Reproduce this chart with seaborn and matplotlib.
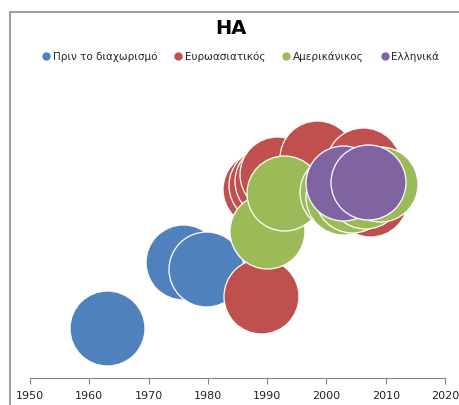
import matplotlib
matplotlib.use("Agg")
import matplotlib.pyplot as plt
import seaborn as sns
import pandas as pd
from matplotlib.lines import Line2D
from matplotlib.patches import Rectangle

# Series: year of appearance and relative position
groups = ["Πριν το διαχωρισμό", "Ευρωασιατικός", "Αμερικάνικος", "Ελληνικά"]
colors = ["#4F81BD", "#C0504D", "#9BBB59", "#8064A2"]

before_x = [1963.0, 1975.8, 1979.7]
before_y = [1.68, 3.87, 3.65]

eurasian_x = [1989.0, 1988.8, 1989.8, 1990.8, 1991.7, 1998.4, 2006.2, 2007.3]
eurasian_y = [2.73, 6.30, 6.43, 6.57, 6.80, 7.33, 7.10, 5.97]

american_x = [1990.0, 1992.8, 2001.8, 2002.8, 2004.3, 2006.5, 2009.0]
american_y = [4.90, 6.17, 6.20, 6.03, 6.10, 6.23, 6.47]

greek_x = [2002.8, 2007.0]
greek_y = [6.50, 6.52]

xticks = [1950, 1960, 1970, 1980, 1990, 2000, 2010, 2020]

frames = []
for g, xs, ys in zip(groups,
                     [before_x, eurasian_x, american_x, greek_x],
                     [before_y, eurasian_y, american_y, greek_y]):
    frames.append(pd.DataFrame({"year": xs, "value": ys, "group": g}))
df = pd.concat(frames, ignore_index=True)

sns.set_theme(style="white")
plt.rcParams["font.family"] = ["DejaVu Sans"]

fig = plt.figure(figsize=(4.59, 4.06), dpi=100)
ax = fig.add_axes([30 / 459, 27 / 406, 415 / 459, 309 / 406])

for g, c in zip(groups, colors):
    sub = df[df["group"] == g]
    sns.scatterplot(data=sub, x="year", y="value", color=c, s=2916,
                    edgecolor="white", linewidth=0.9, ax=ax, legend=False,
                    clip_on=False, zorder=3)

ax.set_xlim(1950, 2020)
ax.set_ylim(0, 10.3)
ax.set_xticks(xticks)
ax.set_xticklabels([str(t) for t in xticks], fontsize=8, color="#222222")
ax.set_yticks([])
ax.set_xlabel("")
ax.set_ylabel("")
for side in ["top", "right", "left"]:
    ax.spines[side].set_visible(False)
ax.spines["bottom"].set_color("#868686")
ax.spines["bottom"].set_linewidth(0.8)
ax.tick_params(axis="x", direction="out", length=4, width=0.8,
               color="#868686", pad=5, bottom=True)

# Chart title and legend
fig.text(231 / 459, 1 - 29 / 406, "HA", ha="center", va="center",
         fontsize=14, fontweight="bold", color="black")
handles = [Line2D([0], [0], marker="o", linestyle="", markersize=5,
                  markerfacecolor=c, markeredgecolor=c) for c in colors]
fig.legend(handles, groups, loc="center", bbox_to_anchor=(240 / 459, 1 - 57 / 406),
           ncol=4, frameon=False, fontsize=7.5, handletextpad=0.1,
           columnspacing=1.55, borderpad=0, handlelength=1.0)

# Outer chart border
fig.patches.append(Rectangle((10 / 459, -0.05), 1.0, 1 - 13 / 406 + 0.05,
                             transform=fig.transFigure, fill=False,
                             edgecolor="#8C8C8C", linewidth=1.2))

fig.savefig("out.png", dpi=100)
